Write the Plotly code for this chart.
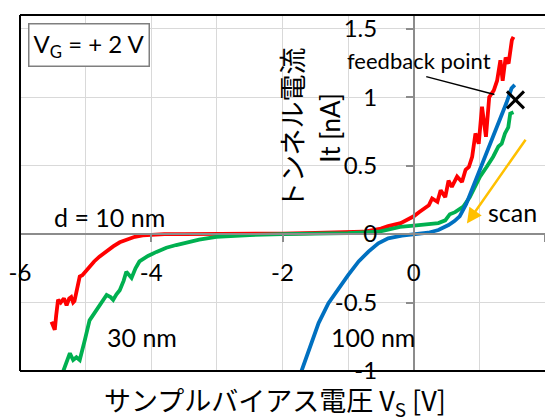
import plotly.graph_objects as go

# ---------------- data ----------------
x_10nm = [-5.52, -5.50, -5.47, -5.45, -5.42, -5.38, -5.33, -5.29, -5.25, -5.22, -5.19, -5.17,
          -5.13, -5.09, -5.05, -5.00, -4.94, -4.87, -4.79, -4.70, -4.58, -4.48, -4.38, -4.25,
          -4.13, -4.00, -3.80, -3.50, -3.00, -2.50, -2.00, -1.50, -1.00, -0.77, -0.50, -0.39,
          -0.20, 0.00, 0.08, 0.17, 0.23, 0.28, 0.36, 0.41, 0.48, 0.53, 0.58, 0.66, 0.735,
          0.79, 0.84, 0.89, 0.94, 0.99, 1.04, 1.10, 1.15, 1.22, 1.27, 1.32, 1.355, 1.40,
          1.445, 1.495, 1.52]
y_10nm = [-0.64, -0.66, -0.70, -0.60, -0.48, -0.50, -0.47, -0.52, -0.47, -0.46, -0.50, -0.49,
          -0.40, -0.31, -0.30, -0.27, -0.24, -0.20, -0.165, -0.13, -0.09, -0.06, -0.044, -0.02,
          -0.01, -0.004, 0.0, 0.0, 0.0, 0.002, 0.004, 0.008, 0.012, 0.017, 0.04, 0.058,
          0.08, 0.13, 0.16, 0.19, 0.21, 0.26, 0.236, 0.32, 0.27, 0.39, 0.345, 0.42, 0.38,
          0.47, 0.49, 0.565, 0.735, 0.66, 0.93, 0.71, 1.0, 1.05, 1.12, 1.27, 1.12, 1.29,
          1.245, 1.416, 1.44]

x_30nm = [-5.34, -5.30, -5.24, -5.19, -5.14, -5.09, -5.05, -5.01, -4.94, -4.87, -4.79, -4.73,
          -4.68, -4.62, -4.58, -4.53, -4.48, -4.42, -4.38, -4.30, -4.24, -4.18, -4.05, -3.92,
          -3.77, -3.62, -3.45, -3.27, -3.01, -2.75, -2.50, -2.00, -1.50, -1.00, -0.54, -0.21,
          0.00, 0.30, 0.375, 0.48, 0.55, 0.63, 0.755, 0.855, 0.93, 1.01, 1.11, 1.21, 1.29,
          1.34, 1.39, 1.44, 1.47, 1.52]
y_30nm = [-1.0, -0.95, -0.87, -0.92, -0.90, -0.92, -0.85, -0.77, -0.63, -0.58, -0.53, -0.49,
          -0.445, -0.46, -0.48, -0.44, -0.41, -0.34, -0.275, -0.32, -0.25, -0.20, -0.16, -0.13,
          -0.10, -0.08, -0.06, -0.04, -0.02, -0.012, -0.007, 0.0, 0.003, 0.007, 0.017, 0.053,
          0.062, 0.076, 0.08, 0.10, 0.145, 0.16, 0.20, 0.27, 0.345, 0.42, 0.49, 0.565, 0.64,
          0.66, 0.735, 0.78, 0.88, 0.89]

x_100nm = [-1.71, -1.58, -1.45, -1.30, -1.15, -1.00, -0.84, -0.69, -0.54, -0.39, -0.18, 0.00,
           0.22, 0.375, 0.53, 0.62, 0.70, 0.80, 0.905, 1.01, 1.11, 1.21, 1.31, 1.41, 1.49, 1.54]
y_100nm = [-1.0, -0.82, -0.65, -0.505, -0.40, -0.30, -0.20, -0.128, -0.068, -0.031, -0.012,
           -0.004, 0.01, 0.03, 0.066, 0.095, 0.13, 0.22, 0.345, 0.47, 0.59, 0.71, 0.83, 0.955,
           1.065, 1.09]

feedback_x = [1.55]
feedback_y = [0.98]

x_tickvals = [-6, -4, -2, 0, 2]
x_ticktext = ["-6", "-4", "-2", "0", "2"]
x_minor_vals = [-5, -3, -1, 1]
y_tickvals = [-1, -0.5, 0, 0.5, 1, 1.5]
y_ticktext = ["-1", "-0.5", "0", "0.5", "1", "1.5"]

X_RANGE = [-6, 2]
Y_RANGE = [-1, 1.6]

# ---------------- figure ----------------
FONT = "Lato, 'Noto Sans CJK JP', sans-serif"
JP = "'Noto Sans CJK JP', Lato, sans-serif"
GRID = "#d9d9d9"
AXC = "#8c8c8c"

fig = go.Figure()
fig.add_trace(go.Scatter(x=x_10nm, y=y_10nm, mode="lines",
                         line=dict(color="#ff0000", width=3.8), name="10 nm"))
fig.add_trace(go.Scatter(x=x_30nm, y=y_30nm, mode="lines",
                         line=dict(color="#00b050", width=3.8), name="30 nm"))
fig.add_trace(go.Scatter(x=x_100nm, y=y_100nm, mode="lines",
                         line=dict(color="#0070c0", width=3.8), name="100 nm"))
fig.add_trace(go.Scatter(x=feedback_x, y=feedback_y, mode="markers",
                         marker=dict(symbol="x-thin", size=17, color="black",
                                     line=dict(color="black", width=3)),
                         name="feedback point"))

ypos_x = (0 - Y_RANGE[0]) / (Y_RANGE[1] - Y_RANGE[0])
xpos_y = (0 - X_RANGE[0]) / (X_RANGE[1] - X_RANGE[0])

fig.update_layout(
    width=545, height=418,
    margin=dict(l=20, r=0, t=15, b=47, autoexpand=False),
    plot_bgcolor="white", paper_bgcolor="white",
    showlegend=False,
    font=dict(family=FONT, size=24, color="black"),
    xaxis=dict(range=X_RANGE, tickmode="array", tickvals=x_tickvals, ticktext=x_ticktext,
               showgrid=True, gridcolor=GRID, gridwidth=1,
               minor=dict(tickmode="array", tickvals=x_minor_vals, showgrid=True,
                          gridcolor=GRID, gridwidth=1, ticks=""),
               zeroline=False, anchor="free", position=ypos_x, automargin=False,
               showline=True, linecolor=AXC, linewidth=1.5,
               ticks="outside", ticklen=7, tickwidth=1.5, tickcolor=AXC,
               ticklabelstandoff=10, tickfont=dict(size=24)),
    yaxis=dict(range=Y_RANGE, tickmode="array", tickvals=y_tickvals, ticktext=y_ticktext,
               showgrid=True, gridcolor=GRID, gridwidth=1,
               zeroline=False, anchor="free", position=xpos_y, automargin=False,
               showline=True, linecolor=AXC, linewidth=1.5,
               ticks="outside", ticklen=7, tickwidth=1.5, tickcolor=AXC,
               ticklabelstandoff=24, tickfont=dict(size=24)),
)

# frame (left, top, bottom)
for x0, y0, x1, y1 in [(0, 0, 0, 1), (0, 1, 1, 1), (0, 0, 1, 0)]:
    fig.add_shape(type="line", xref="paper", yref="paper", x0=x0, y0=y0, x1=x1, y1=y1,
                  line=dict(color="black", width=2))

# feedback pointer line
fig.add_shape(type="line", xref="x", yref="y", x0=0.19, y0=1.15, x1=1.23, y1=1.02,
              line=dict(color="black", width=1.5))

C = dict(xanchor="center", yanchor="middle")
ann = []
ann.append(dict(xref="paper", yref="paper", x=0.131, y=0.917,
                text="V<sub>G</sub> = + 2 V", showarrow=False,
                font=dict(size=24, family=FONT), bordercolor="#7f7f7f", borderwidth=1.5,
                borderpad=4, bgcolor="white", **C))
ann.append(dict(xref="x", yref="y", x=-4.63, y=0.124, text="d = 10 nm", showarrow=False,
                font=dict(size=25, family=FONT), **C))
ann.append(dict(xref="x", yref="y", x=-4.14, y=-0.755, text="30 nm", showarrow=False,
                font=dict(size=25, family=FONT), **C))
ann.append(dict(xref="x", yref="y", x=-0.62, y=-0.755, text="100 nm", showarrow=False,
                font=dict(size=25, family=FONT), **C))
ann.append(dict(xref="x", yref="y", x=1.51, y=0.16, text="scan", showarrow=False,
                font=dict(size=25, family=FONT), **C))
ann.append(dict(xref="x", yref="y", x=0.08, y=1.27, text="feedback point", showarrow=False,
                font=dict(size=22, family=FONT), **C))
# scan arrow
ann.append(dict(xref="x", yref="y", axref="x", ayref="y", x=0.81, y=0.078, ax=1.72, ay=0.70,
                text="", showarrow=True, arrowhead=2, arrowsize=1.2, arrowwidth=2.5,
                arrowcolor="#ffc000"))
# axis titles
ann.append(dict(xref="paper", yref="paper", x=0.486, y=-0.084,
                text="サンプルバイアス電圧 V<sub>S</sub> [V]", showarrow=False,
                font=dict(size=27, family=JP), **C))
ann.append(dict(xref="paper", yref="paper", x=0.518, y=0.6826, text="トンネル電流",
                textangle=-90, showarrow=False, font=dict(size=27, family=JP), **C))
ann.append(dict(xref="paper", yref="paper", x=0.590, y=0.6826, text="It [nA]",
                textangle=-90, showarrow=False, font=dict(size=26, family=FONT), **C))
fig.update_layout(annotations=ann)

fig.write_html("out.html", config={"displayModeBar": False},
               post_script="document.body.style.margin='0';document.body.style.overflow='hidden';")
